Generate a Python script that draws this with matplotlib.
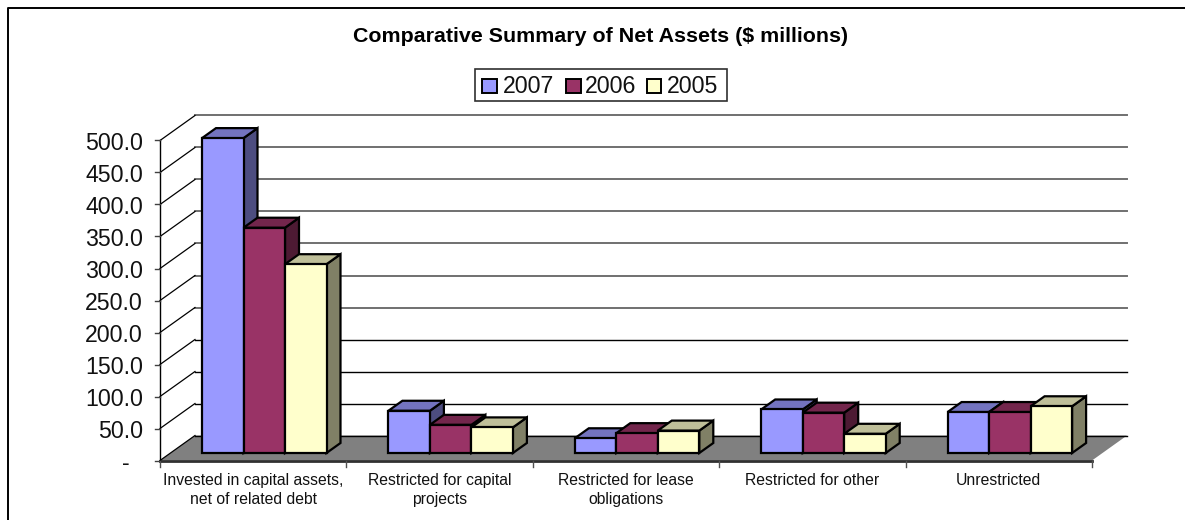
import matplotlib
matplotlib.use('Agg')
import matplotlib.pyplot as plt
from matplotlib.patches import Polygon, Rectangle

plt.rcParams['font.family'] = ['Liberation Sans', 'DejaVu Sans']

categories = ['Invested in capital assets,\nnet of related debt',
              'Restricted for capital\nprojects',
              'Restricted for lease\nobligations',
              'Restricted for other',
              'Unrestricted']
years = ['2007', '2006', '2005']
v2007 = [492, 66, 23, 68, 64]
v2006 = [352, 44, 31, 63, 64]
v2005 = [295, 40, 35, 30, 73]
yticks = [50, 100, 150, 200, 250, 300, 350, 400, 450, 500]

front = ['#9999ff', '#993366', '#ffffcc']
top = ['#7373bf', '#73264c', '#bfbf99']
side = ['#4d4d80', '#4d1a33', '#808066']

W, H = 1185, 520
fig = plt.figure(figsize=(W / 100, H / 100), dpi=100)
ax = fig.add_axes([160 / W, (H - 460.5) / H, 932 / W, 320 / H])
ax.set_xlim(0, 5)
ax.set_ylim(0, 500)
ax.axis('off')

px = 5 / 932      # one pixel in x data units
py = 500 / 320    # one pixel in y data units
dx, dy = 35 * px, 25 * py       # wall depth
bx, by = 10.5 * px, 7.5 * py    # bar base offset from the front edge
sx, sy = 14 * px, 10 * py       # bar depth
bw = 41.5 * px
start = 42 * px


def poly(pts, fc, z):
    ax.add_patch(Polygon(pts, closed=True, fc=fc, ec='black', lw=1.6, zorder=z,
                         clip_on=False, joinstyle='miter'))


# frame: only the top and left edges fall inside the picture
fig.add_artist(plt.Line2D([8 / W, 8 / W, 1], [0, 1 - 7.5 / H, 1 - 7.5 / H], color='black', lw=1.4,
                          transform=fig.transFigure))

# floor
ax.add_patch(Polygon([(0, 0), (5, 0), (5 + dx, dy), (dx, dy)], closed=True, fc='#808080',
                     ec='none', zorder=1, clip_on=False))
ax.plot([0, 5], [0, 0], color='#303030', lw=2, zorder=2, clip_on=False)

# grid on the back wall and the left wall
for t in [0] + yticks:
    if t < 200:
        ax.plot([dx, 5 + dx], [t + dy, t + dy], color='black', lw=1, zorder=1.5, clip_on=False)
    else:
        ax.plot([dx, 5 + dx], [t + dy, t + dy], color='#707070', lw=1.4, zorder=1.5, clip_on=False)
    ax.plot([0, dx], [t, t + dy], color='black', lw=0.9, zorder=1.5, clip_on=False)
ax.plot([0, 0], [0, 500], color='black', lw=1, zorder=2, clip_on=False)

# y ticks
for t in [0] + yticks:
    ax.plot([-5 * px, 0], [t, t], color='#404040', lw=1, zorder=2, clip_on=False)
    if t:
        ax.text(-17 * px, t - 3 * py, f'{t:.1f}', ha='right', va='center', fontsize=16.7,
                color='#111111', clip_on=False)
    else:
        ax.text(-30 * px, t - 3 * py, '-', ha='right', va='center', fontsize=16.7, color='#111111',
                clip_on=False)

# x ticks and category labels
for i in range(6):
    ax.plot([i, i], [0, -6 * py], color='#505050', lw=1, zorder=2, clip_on=False)
for i, c in enumerate(categories):
    ax.text(i + 0.5, -12.5 * py, c, ha='center', va='top', fontsize=11.3, linespacing=1.36,
            color='#111111', clip_on=False)

# bars, drawn left to right so that each one covers the side of the last
for i in range(5):
    for j, vals in enumerate([v2007, v2006, v2005]):
        x0 = i + start + j * bw
        x1 = x0 + bw
        y0 = by
        y1 = by + vals[i]
        z = 3 + i + j * 0.1
        poly([(x1, y0), (x1 + sx, y0 + sy), (x1 + sx, y1 + sy), (x1, y1)], side[j], z)
        poly([(x0, y1), (x1, y1), (x1 + sx, y1 + sy), (x0 + sx, y1 + sy)], top[j], z)
        poly([(x0, y0), (x1, y0), (x1, y1), (x0, y1)], front[j], z)

# title
fig.text(601 / W, 1 - 37 / H, 'Comparative Summary of Net Assets ($ millions)', ha='center',
         va='center', fontsize=15.4, fontweight='bold', color='black')

# legend
fig.add_artist(Rectangle((475.5 / W, 1 - 100.5 / H), 251 / W, 31.5 / H, fc='white', ec='#303030',
                         lw=1.2, transform=fig.transFigure))
for sw, tx, y, col in zip([482, 566, 647], [503, 585, 667], years, front):
    fig.add_artist(Rectangle((sw / W, 1 - 92.5 / H), 14.5 / W, 13.5 / H, fc=col, ec='black', lw=1.4,
                             transform=fig.transFigure))
    fig.text(tx / W, 1 - 86.5 / H, y, ha='left', va='center', fontsize=16.7, color='#111111')

fig.savefig('out.png', dpi=100, facecolor='white')
